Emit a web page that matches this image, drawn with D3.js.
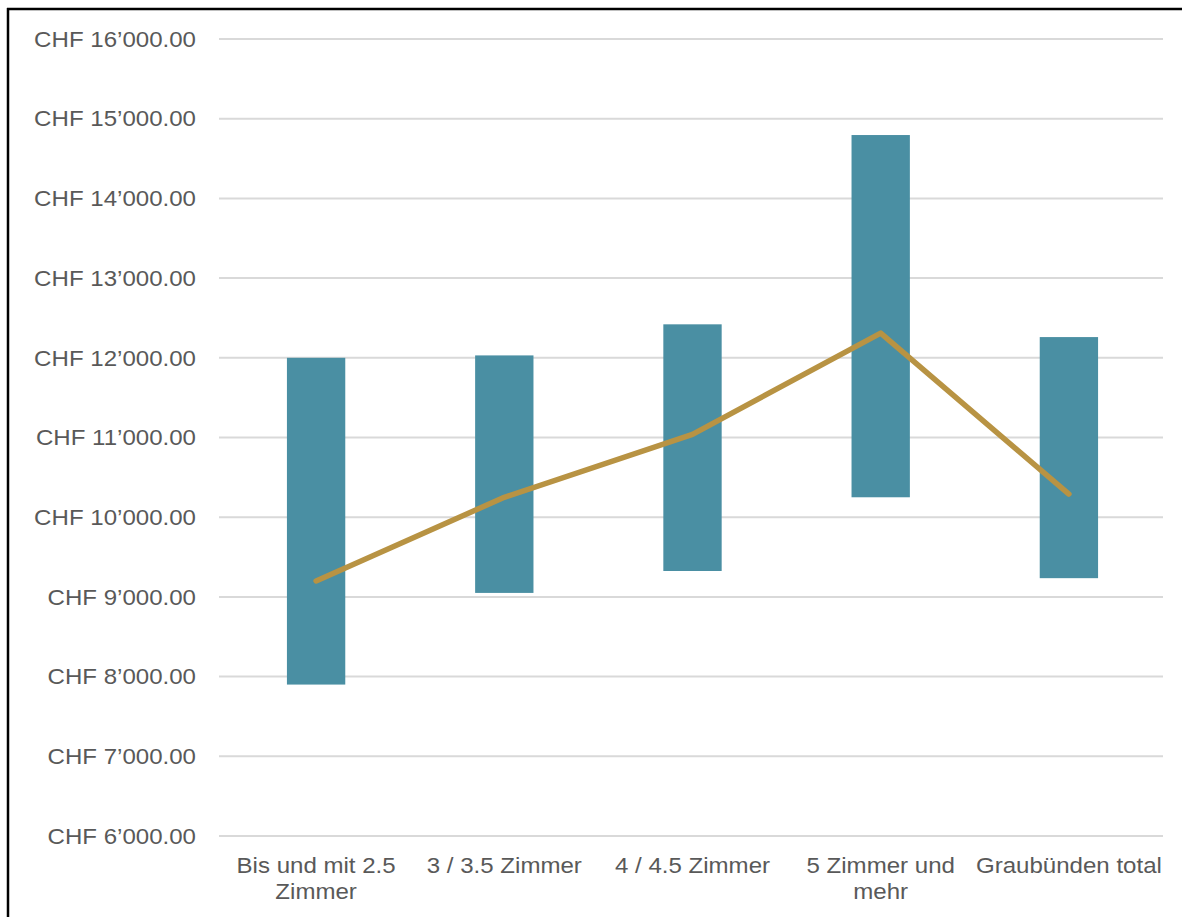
<!DOCTYPE html>
<html>
<head>
<meta charset="utf-8">
<script src="https://cdn.jsdelivr.net/npm/d3@7"></script>
<style>
  html, body { margin: 0; padding: 0; background: #fff; }
  svg { display: block; }
</style>
</head>
<body>
<svg id="chart" width="1182" height="917"></svg>
<script>
// Monthly rent ranges per apartment size (CHF)
const categories = [
  ["Bis und mit 2.5", "Zimmer"],
  ["3 / 3.5 Zimmer"],
  ["4 / 4.5 Zimmer"],
  ["5 Zimmer und", "mehr"],
  ["Graubünden total"]
];
const lowValues  = [7900, 9050, 9325, 10250, 9235];
const highValues = [12000, 12030, 12420, 14795, 12260];
const midValues  = [9200, 10250, 11040, 12310, 10290];
const yTicks = [6000, 7000, 8000, 9000, 10000, 11000, 12000, 13000, 14000, 15000, 16000];

const svg = d3.select("#chart");
const W = 1182, H = 917;
const margin = { left: 222, right: 19, top: 39, bottom: 81 };
const FONT = "Liberation Sans, Arial, sans-serif";
const FS = 21.5, SX = 1.12; // label size and horizontal stretch

const keys = categories.map((c, i) => i);
const x = d3.scaleBand()
  .domain(keys)
  .range([margin.left, W - margin.right])
  .paddingInner(0.69)
  .paddingOuter(0.345);

const y = d3.scaleLinear()
  .domain([6000, 16000])
  .range([H - margin.bottom, margin.top]);

const fmt = v => {
  const s = d3.format(".2f")(v);
  const [i, d] = s.split(".");
  return "CHF " + i.replace(/\B(?=(\d{3})+(?!\d))/g, "\u2019") + "." + d;
};

// Grid lines
svg.append("g")
  .selectAll("line")
  .data(yTicks)
  .join("line")
  .attr("x1", margin.left - 3)
  .attr("x2", W - margin.right)
  .attr("y1", d => y(d))
  .attr("y2", d => y(d))
  .attr("stroke", "#d9d9d9")
  .attr("stroke-width", 2);

// Y axis labels
svg.append("g")
  .selectAll("text")
  .data(yTicks)
  .join("text")
  .attr("transform", d => `translate(196,${y(d)}) scale(${SX},1)`)
  .attr("dy", "0.36em")
  .attr("text-anchor", "end")
  .attr("font-family", FONT)
  .attr("font-size", FS)
  .attr("fill", "#595959")
  .text(fmt);

// Range bars
svg.append("g")
  .selectAll("rect")
  .data(keys)
  .join("rect")
  .attr("x", i => x(i))
  .attr("width", x.bandwidth())
  .attr("y", i => y(highValues[i]))
  .attr("height", i => y(lowValues[i]) - y(highValues[i]))
  .attr("fill", "#4a8fa3");

// Middle value line
const line = d3.line()
  .x(i => x(i) + x.bandwidth() / 2)
  .y(i => y(midValues[i]));
svg.append("path")
  .datum(keys)
  .attr("d", line)
  .attr("fill", "none")
  .attr("stroke", "#b89343")
  .attr("stroke-width", 5.5)
  .attr("stroke-linecap", "round")
  .attr("stroke-linejoin", "round");

// Category labels
const xl = svg.append("g")
  .selectAll("text")
  .data(keys)
  .join("text")
  .attr("transform", i => `translate(${x(i) + x.bandwidth() / 2},0) scale(${SX},1)`)
  .attr("text-anchor", "middle")
  .attr("font-family", FONT)
  .attr("font-size", FS)
  .attr("fill", "#595959");
xl.selectAll("tspan")
  .data(i => categories[i])
  .join("tspan")
  .attr("x", 0)
  .attr("y", (d, k) => 873 + k * 26)
  .text(d => d);

// Frame
svg.append("line").attr("x1", 7).attr("x2", W).attr("y1", 9).attr("y2", 9)
  .attr("stroke", "#000").attr("stroke-width", 2.5);
svg.append("line").attr("x1", 8).attr("x2", 8).attr("y1", 8).attr("y2", H)
  .attr("stroke", "#000").attr("stroke-width", 2.5);
</script>
</body>
</html>
